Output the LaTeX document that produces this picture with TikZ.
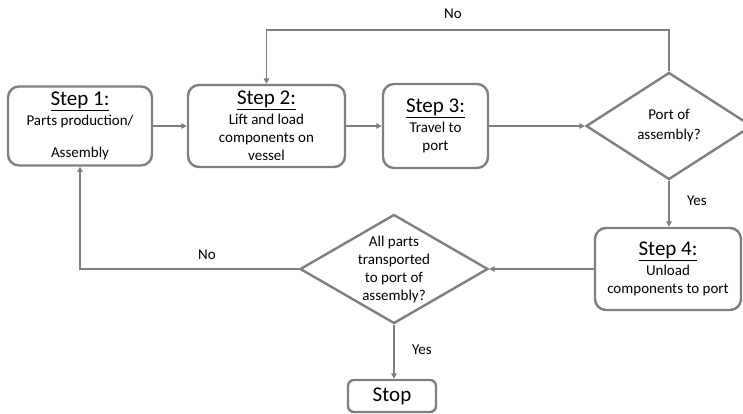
\documentclass[tikz,border=0pt]{standalone}
\usepackage{fontspec}
\setmainfont{Carlito}
\usetikzlibrary{arrows.meta,shapes.geometric}
\definecolor{boxgrey}{HTML}{7F7F7F}
\newcommand{\flowtext}{\fontsize{15}{18}\selectfont}
\newcommand{\steptitle}[1]{{\fontsize{21}{22}\selectfont\underline{#1}}}
\tikzset{stepbox/.style={draw=boxgrey,line width=2.4pt,rounded corners=11pt,align=center,inner sep=0,font=\flowtext},
  decision/.style={diamond,draw=boxgrey,line width=2.4pt,align=center,inner sep=-15pt,font=\flowtext},
  flowpfeil/.style={boxgrey,line width=1.8pt,-{Triangle[length=5.5pt,width=5.5pt]}},
  flowlabel/.style={inner sep=0,font=\flowtext}}

\begin{document}
\begin{tikzpicture}[x=1pt,y=1pt]
\useasboundingbox (0,0) rectangle (743,413);
% top row
\node[stepbox,minimum width=144,minimum height=79] (step1) at (80,287)
  {\steptitle{Step 1:}\\[2pt] Parts production/\\[14pt] Assembly};
\node[stepbox,minimum width=157,minimum height=82] (step2) at (266.5,287)
  {\steptitle{Step 2:}\\[2pt] Lift and load\\ components on\\ vessel};
\node[stepbox,minimum width=105,minimum height=84] (step3) at (435.5,287)
  {\steptitle{Step 3:}\\[2pt] Travel to\\ port};
\node[decision,minimum width=166,minimum height=107] (port) at (669,287)
  {Port of\\[2pt] assembly?};
% bottom row
\node[stepbox,minimum width=146,minimum height=82] (step4) at (668,144)
  {\steptitle{Step 4:}\\[2pt] Unload\\ components to port};
\node[decision,minimum width=188,minimum height=109] (allparts) at (394,144)
  {All parts\\ transported\\ to port of\\ assembly?};
\node[stepbox,rounded corners=6pt,minimum width=88,minimum height=32,font=\fontsize{21}{22}\selectfont] (stop) at (392,17) {Stop};
% connectors
\draw[flowpfeil] (step1.east) -- (step1.east -| step2.west);
\draw[flowpfeil] (step2.east) -- (step2.east -| step3.west);
\draw[flowpfeil] (step3.east) -- (port.west);
\coordinate (noturn) at (669,383);
\draw[flowpfeil] (port.north) -- (noturn) -| (step2.north);
\draw[flowpfeil] (port.south) -- (port.south |- step4.north);
\draw[flowpfeil] (step4.west) -- (allparts.east);
\draw[flowpfeil] (allparts.west) -| (step1.south);
\draw[flowpfeil] (allparts.south) -- (allparts.south |- stop.north);
% labels
\node[flowlabel] (notop) at (453,399) {No};
\node[flowlabel] (yesport) at (697,212) {Yes};
\node[flowlabel] (noleft) at (207,158) {No};
\node[flowlabel] (yesstop) at (422,63) {Yes};
\end{tikzpicture}
\end{document}
